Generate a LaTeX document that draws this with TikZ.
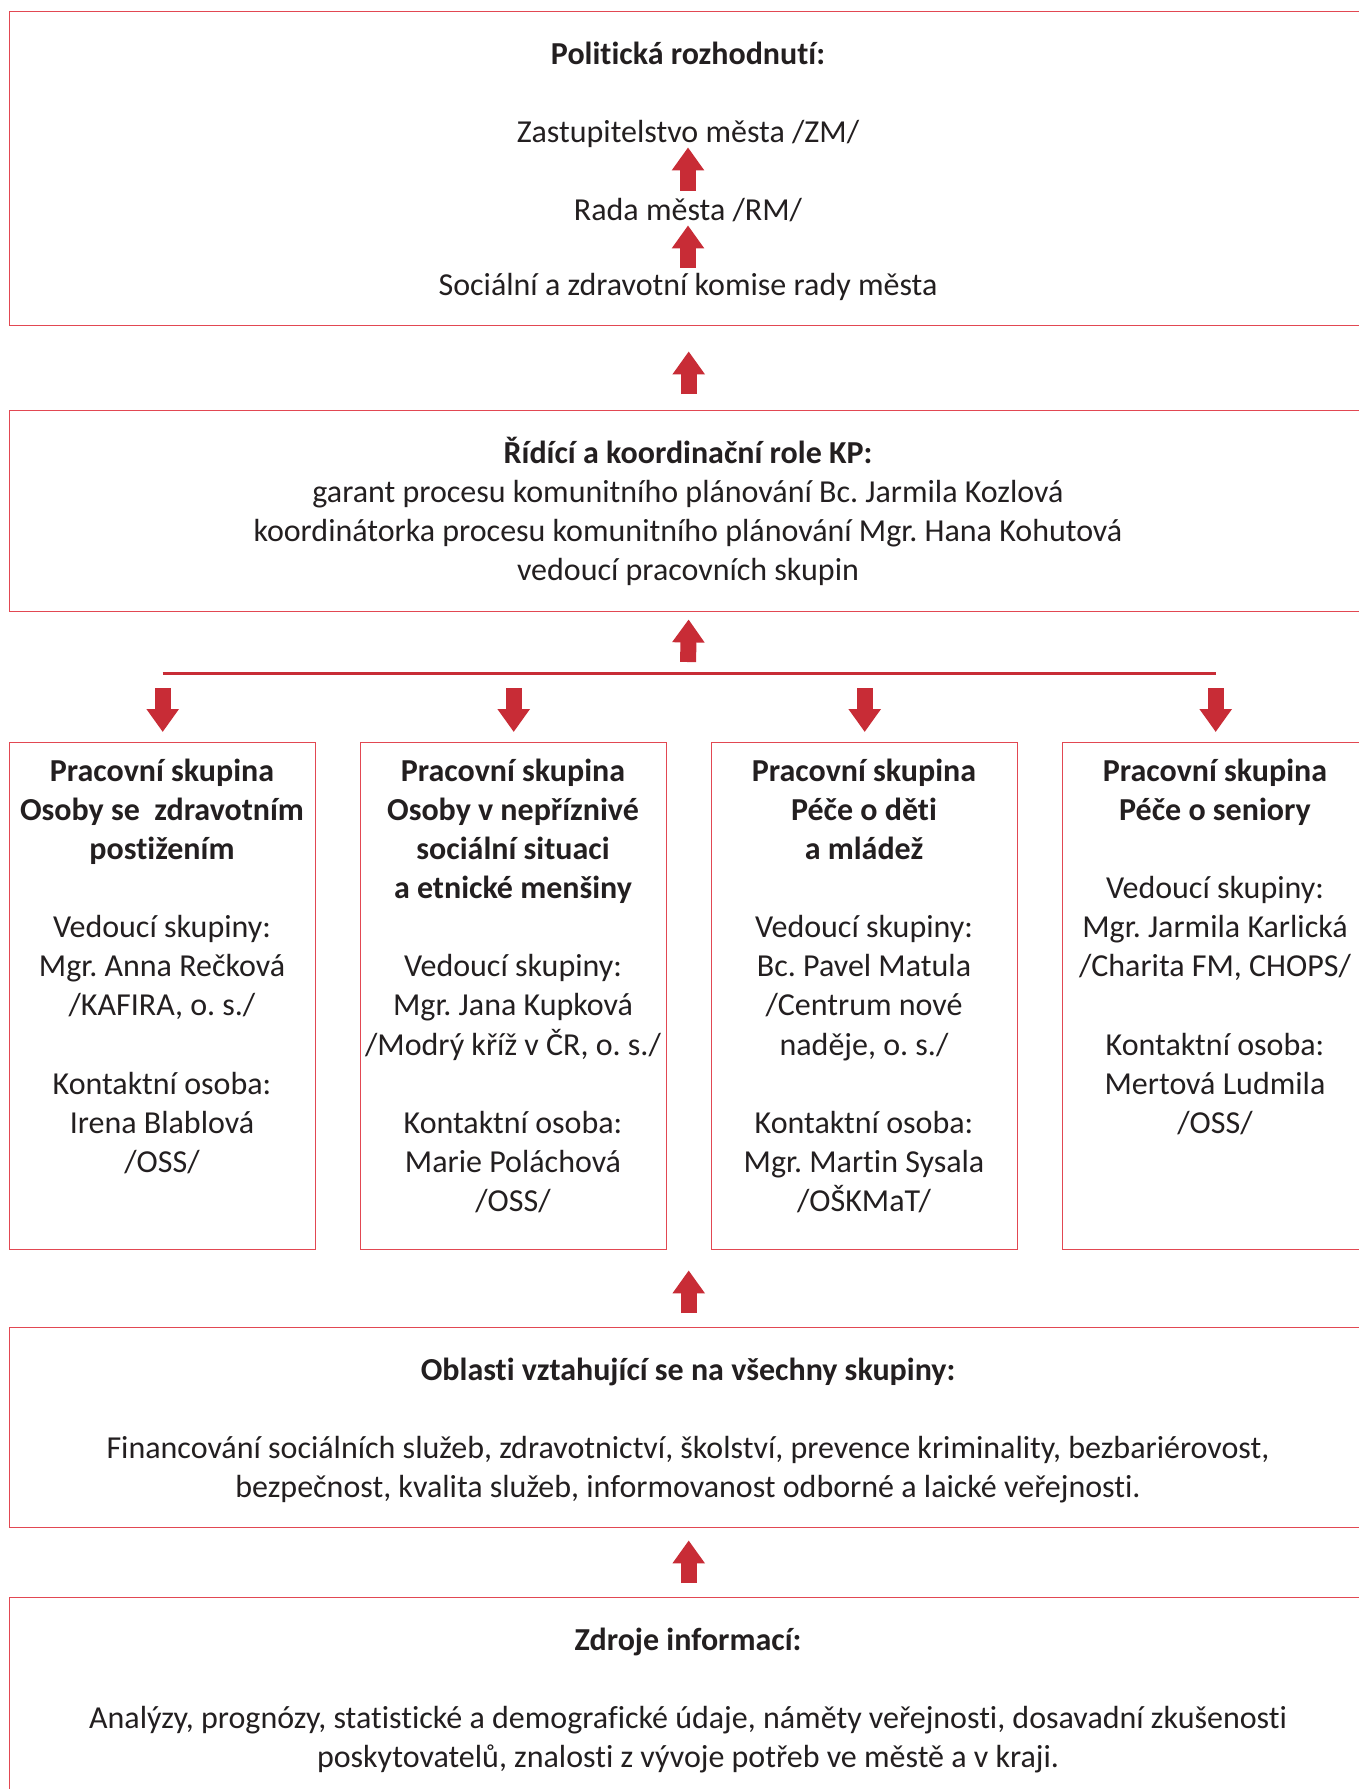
\documentclass[tikz,border=0pt]{standalone}
\usepackage{fontspec}
\setmainfont{Carlito}[Ligatures=NoCommon]
\usetikzlibrary{arrows.meta}
\definecolor{kpred}{RGB}{200,44,54}
\definecolor{kpframe}{RGB}{226,72,82}
\definecolor{kptext}{RGB}{35,31,32}
\frenchspacing
\begin{document}
\begin{tikzpicture}[x={(0.5pt,0)},y={(0,-0.5pt)},
  every node/.style={inner sep=0pt,text=kptext,font=\fontsize{16}{19.55}\selectfont},
  box/.style={draw=kpframe,line width=.7pt,anchor=north west,minimum width=679pt},
  grp/.style={box,minimum width=153pt,minimum height=253.5pt},
  txt/.style={align=center,anchor=north},
  rowtxt/.style={anchor=base,text height=11pt,text depth=2.5pt},
  bigarrow/.style={draw=kpred,line width=8pt,-{Triangle[width=15.5pt,length=11.5pt]}},
  busline/.style={draw=kpred,line width=1.5pt}]
  \fill[white] (0,0) rectangle (1359,1789);
  \useasboundingbox (0,0) rectangle (1359,1789);
  \clip (0,0) rectangle (1359,1789);
  % ramecky
  \node[box,minimum height=157pt] (polit) at (9,11) {};
  \node[box,minimum height=100.5pt] (rizeni) at (9,410) {};
  \foreach \i/\x in {1/9,2/360,3/711,4/1062} \node[grp] (ps\i) at (\x,742) {};
  \node[box,minimum height=100pt] (oblasti) at (9,1327) {};
  \node[box,minimum height=130pt] (zdroje) at (9,1597) {};
  % politicka rozhodnuti
  \node[rowtxt] (poltitle) at (688,64) {\textbf{Politická rozhodnutí:}};
  \node[rowtxt] (zm) at (688,142) {Zastupitelstvo města /ZM/};
  \node[rowtxt] (rm) at (688,220) {Rada města /RM/};
  \node[rowtxt] (komise) at (688,295) {Sociální a zdravotní komise rady města};
  \draw[bigarrow,shorten <=2.5pt] (komise) -- (rm);
  \draw[bigarrow,shorten <=3.5pt] (rm) -- (zm);
  \draw[bigarrow,shorten <=8pt,shorten >=12.5pt] (rizeni) -- (polit);
  \node[txt] (rizenitext) at (688,435.6) {\strut\textbf{Řídící a koordinační role KP:}\\
    garant procesu komunitního plánování Bc. Jarmila Kozlová\\
    koordinátorka procesu komunitního plánování Mgr. Hana Kohutová\\
    vedoucí pracovních skupin};
  % pracovni skupiny
  \coordinate (bus) at (688,673);
  \draw[busline] (ps1.north |- bus) -- (ps4.north |- bus);
  \draw[bigarrow,shorten <=5.5pt,shorten >=3.5pt] (bus) -- (rizeni.south);
  \foreach \i in {1,...,4} \draw[bigarrow,shorten <=7.5pt,shorten >=5pt] (ps\i.north |- bus) -- (ps\i.north);
  \node[txt] (ps1text) at (162,753.6) {\strut\textbf{Pracovní skupina}\\ \textbf{Osoby se\ \ zdravotním}\\
    \textbf{postižením}\\[\baselineskip] Vedoucí skupiny:\\ Mgr. Anna Rečková\\ /KAFIRA, o. s./\\[\baselineskip]
    Kontaktní osoba:\\ Irena Blablová\\ /OSS/};
  \node[txt] (ps2text) at (513,753.6) {\strut\textbf{Pracovní skupina}\\ \textbf{Osoby v nepříznivé}\\
    \textbf{sociální situaci}\\ \textbf{a etnické menšiny}\\[\baselineskip] Vedoucí skupiny:\\ Mgr. Jana Kupková\\
    /Modrý kříž v ČR, o. s./\\[\baselineskip] Kontaktní osoba:\\ Marie Poláchová\\ /OSS/};
  \node[txt] (ps3text) at (864,753.6) {\strut\textbf{Pracovní skupina}\\ \textbf{Péče o děti}\\
    \textbf{a mládež}\\[\baselineskip] Vedoucí skupiny:\\ Bc. Pavel Matula\\ /Centrum nové\\ naděje, o. s./\\[\baselineskip]
    Kontaktní osoba:\\ Mgr. Martin Sysala\\ /OŠKMaT/};
  \node[txt] (ps4text) at (1215,753.6) {\strut\textbf{Pracovní skupina}\\ \textbf{Péče o seniory}\\[\baselineskip]
    Vedoucí skupiny:\\ Mgr. Jarmila Karlická\\ /Charita FM, CHOPS/\\[\baselineskip]
    Kontaktní osoba:\\ Mertová Ludmila\\ /OSS/};
  % oblasti a zdroje
  \draw[bigarrow,shorten <=7pt,shorten >=10pt] (oblasti.north) -- (oblasti.north |- ps2.south);
  \node[txt] (oblastitext) at (688,1352.6) {\strut\textbf{Oblasti vztahující se na všechny skupiny:}\\[\baselineskip]
    Financování sociálních služeb, zdravotnictví, školství, prevence kriminality, bezbariérovost,\\
    bezpečnost, kvalita služeb, informovanost odborné a laické veřejnosti.};
  \draw[bigarrow,shorten <=7pt,shorten >=6pt] (zdroje.north) -- (oblasti.south);
  \node[txt] (zdrojetext) at (688,1622.6) {\strut\textbf{Zdroje informací:}\\[\baselineskip]
    Analýzy, prognózy, statistické a demografické údaje, náměty veřejnosti, dosavadní zkušenosti\\
    poskytovatelů, znalosti z vývoje potřeb ve městě a v kraji.};
\end{tikzpicture}
\end{document}
